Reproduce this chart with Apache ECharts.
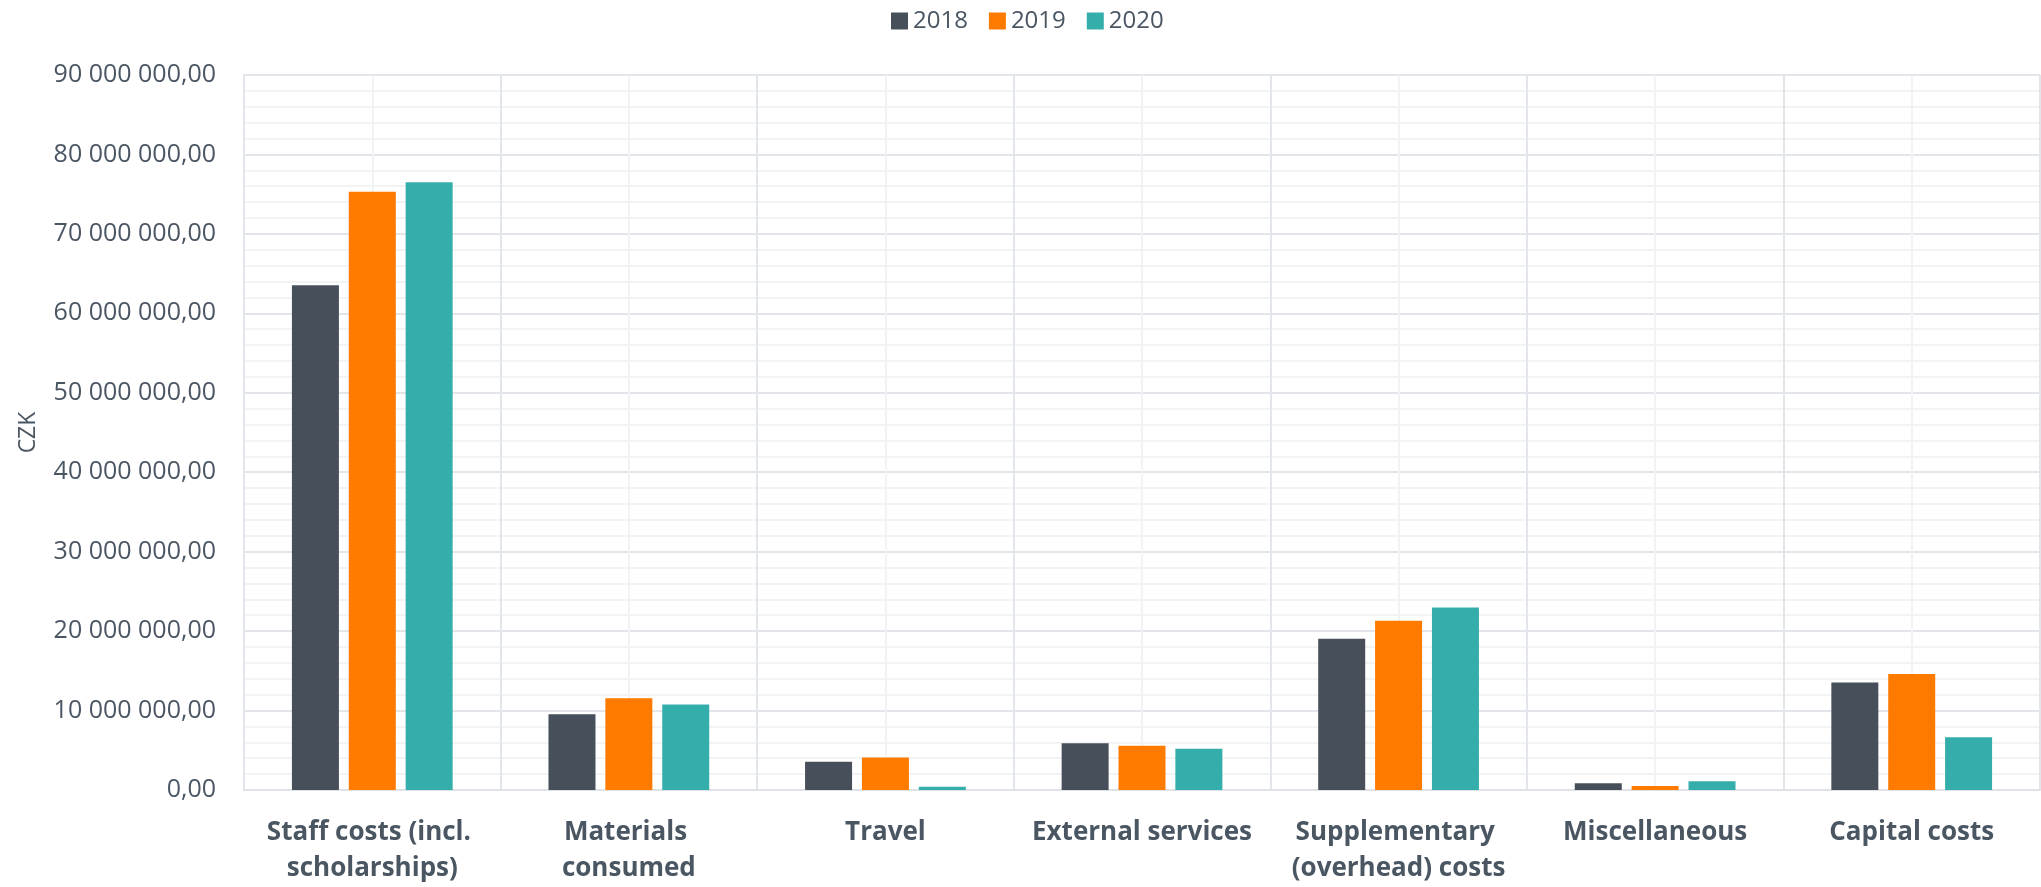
<!DOCTYPE html>
<html>
<head>
<meta charset="utf-8">
<script src="https://cdn.jsdelivr.net/npm/echarts@6/dist/echarts.min.js"></script>
<style>
html,body{margin:0;padding:0;background:#fff;}
#chart{width:2041px;height:887px;}
</style>
</head>
<body>
<div id="chart"></div>
<script>
const categories = [
  'Staff costs (incl. scholarships)',
  'Materials consumed',
  'Travel',
  'External services',
  'Supplementary (overhead) costs',
  'Miscellaneous',
  'Capital costs'
];
const seriesNames = ['2018', '2019', '2020'];
const values2018 = [63550000, 9540000, 3550000, 5900000, 19040000, 840000, 13520000];
const values2019 = [75300000, 11550000, 4090000, 5560000, 21300000, 500000, 14600000];
const values2020 = [76500000, 10760000, 410000, 5180000, 22970000, 1090000, 6650000];
const yTicks = { min: 0, max: 90000000, interval: 10000000 };

const colors = ['#47505a', '#ff7b00', '#34aeab'];
const textColor = '#4b5663';
const fontFamily = '"Open Sans", "Noto Sans", sans-serif';

function fmt(v) {
  const s = Math.round(v).toString().replace(/\B(?=(\d{3})+(?!\d))/g, ' ');
  return s + ',00';
}

const chart = echarts.init(document.getElementById('chart'), null, {renderer: 'canvas'});
const seriesData = [values2018, values2019, values2020];

chart.setOption({
  animation: false,
  color: colors,
  textStyle: { fontFamily: fontFamily },
  legend: {
    left: 886,
    top: 4,
    icon: 'rect',
    itemWidth: 17,
    itemHeight: 17,
    itemGap: 21,
    textStyle: { fontSize: 24, color: textColor, fontFamily: fontFamily },
    data: seriesNames
  },
  grid: { left: 244, right: 1, top: 75, bottom: 95, containLabel: false },
  xAxis: [
    {
      type: 'category',
      data: categories,
      boundaryGap: true,
      axisLine: { show: true, lineStyle: { color: '#dfe2e6', width: 2 } },
      axisTick: { show: false },
      splitLine: { show: false },
      axisLabel: {
        margin: 25,
        fontSize: 26,
        fontWeight: 'bold',
        color: textColor,
        lineHeight: 36,
        width: 240,
        overflow: 'break',
        interval: 0,
        fontFamily: fontFamily
      },
      z: 3
    },
    {
      type: 'value',
      position: 'bottom',
      min: 0,
      max: 14,
      interval: 2,
      axisLine: { show: false },
      axisTick: { show: false },
      axisLabel: { show: false },
      splitLine: { show: true, lineStyle: { color: '#e2e5e9', width: 2 } },
      minorTick: { show: false, splitNumber: 2 },
      minorSplitLine: { show: true, lineStyle: { color: '#f2f3f5', width: 2 } }
    }
  ],
  yAxis: {
    type: 'value',
    min: yTicks.min,
    max: yTicks.max,
    interval: yTicks.interval,
    name: 'CZK',
    nameLocation: 'middle',
    nameGap: 204,
    nameTextStyle: { fontSize: 23, color: textColor, fontFamily: fontFamily },
    axisLine: { show: true, lineStyle: { color: '#e2e5e9', width: 2 } },
    axisTick: { show: false },
    axisLabel: {
      margin: 28,
      fontSize: 25,
      color: textColor,
      fontFamily: fontFamily,
      formatter: fmt
    },
    splitLine: { show: true, lineStyle: { color: '#e2e5e9', width: 2 } },
    minorTick: { show: false, splitNumber: 5 },
    minorSplitLine: { show: true, lineStyle: { color: '#f2f3f5', width: 2 } }
  },
  series: seriesNames.map((name, i) => ({
    name: name,
    type: 'bar',
    xAxisIndex: 0,
    data: seriesData[i],
    barWidth: 47,
    barGap: '21%',
    itemStyle: { color: colors[i] },
    z: 4
  }))
});
</script>
</body>
</html>
